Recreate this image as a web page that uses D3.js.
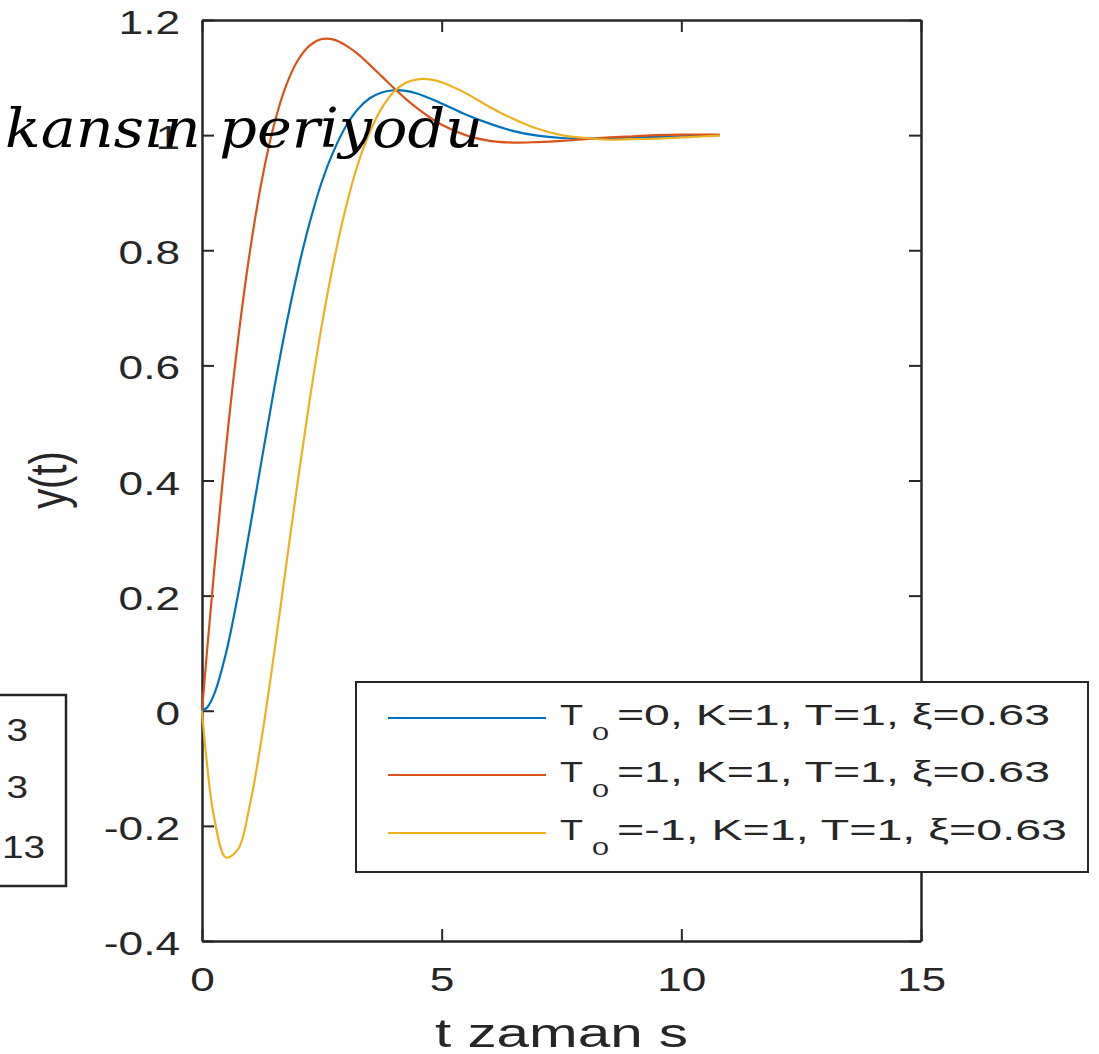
<!DOCTYPE html>
<html>
<head>
<meta charset="utf-8">
<script src="https://cdn.jsdelivr.net/npm/d3@7"></script>
<style>
  html, body { margin: 0; padding: 0; background: #ffffff; }
  svg { display: block; }
  text { font-family: "Liberation Sans", Arial, sans-serif; fill: #262626; }
</style>
</head>
<body>
<svg id="chart" width="1099" height="1054"></svg>
<script>
// Step responses y(t) of K(T0·s+1)/(T²s²+2ξTs+1), sampled in time
const timeValues = [0, 0.1, 0.25, 0.5, 0.75, 1, 1.25, 1.5, 1.75, 2, 2.25, 2.5, 2.75, 3, 3.25, 3.5, 3.75, 4,
  4.25, 4.5, 4.75, 5, 5.5, 6, 6.5, 7, 7.5, 8, 8.5, 9, 9.5, 10, 10.5, 10.8];
const responseT0Zero = [0, 0.005, 0.028, 0.100, 0.201, 0.317, 0.438, 0.557, 0.667, 0.765, 0.849, 0.919, 0.973, 1.015,
  1.045, 1.064, 1.074, 1.078, 1.077, 1.072, 1.064, 1.055, 1.036, 1.020, 1.007, 0.999, 0.995, 0.994, 0.994,
  0.996, 0.997, 0.998, 0.999, 1.000];
const responseT0Plus = [0, 0.099, 0.240, 0.456, 0.643, 0.798, 0.922, 1.017, 1.085, 1.130, 1.156, 1.167, 1.166, 1.156,
  1.141, 1.122, 1.102, 1.082, 1.063, 1.046, 1.031, 1.018, 1.000, 0.990, 0.987, 0.988, 0.990, 0.993, 0.996,
  0.998, 1.000, 1.001, 1.001, 1.001];
const responseT0Minus = [0, -0.089, -0.184, -0.255, -0.241, -0.163, -0.045, 0.097, 0.249, 0.400, 0.542, 0.670, 0.781,
  0.874, 0.949, 1.005, 1.047, 1.075, 1.091, 1.097, 1.097, 1.092, 1.073, 1.049, 1.028, 1.011, 1.000, 0.995,
  0.992, 0.993, 0.994, 0.996, 0.998, 0.999];

const seriesColors = ["#0072BD", "#D95319", "#EDB120"];
const legendSubscripts = ["0", "0", "0"];
const legendTexts = ["=0, K=1, T=1, \u03BE=0.63", "=1, K=1, T=1, \u03BE=0.63", "=-1, K=1, T=1, \u03BE=0.63"];

const xTickValues = [0, 5, 10, 15];
const xTickLabels = ["0", "5", "10", "15"];
const yTickValues = [-0.4, -0.2, 0, 0.2, 0.4, 0.6, 0.8, 1, 1.2];
const yTickLabels = ["-0.4", "-0.2", "0", "0.2", "0.4", "0.6", "0.8", "1", "1.2"];

const titleText = "kans\u0131n periyodu";
const xLabelText = "t zaman s";
const yLabelText = "y(t)";
const sideBoxTexts = ["3", "3", "13"];

const svg = d3.select("#chart");
const ink = "#262626";
const box = { left: 202, right: 921, top: 20, bottom: 941 };
const stretch = 1.3;

const x = d3.scaleLinear().domain([0, 15]).range([box.left, box.right]);
const y = d3.scaleLinear().domain([-0.4, 1.2]).range([box.bottom, box.top]);

svg.append("rect").attr("width", 1099).attr("height", 1054).attr("fill", "#ffffff");

// Fragment of a neighbouring legend box at the left edge
const side = svg.append("g");
side.append("rect").attr("x", -60).attr("y", 695).attr("width", 126).attr("height", 191)
  .attr("fill", "#ffffff").attr("stroke", ink).attr("stroke-width", 2.5);
[[28, 730], [28, 787], [45, 847]].forEach((p, i) => {
  side.append("text")
    .attr("transform", `translate(${p[0]},${p[1]}) scale(1.25,1)`)
    .attr("text-anchor", "end").attr("dy", "0.36em")
    .style("font-size", "31px")
    .text(sideBoxTexts[i]);
});

// Axes with inward ticks on all four sides
function styleAxis(g) {
  g.select(".domain").attr("stroke", ink).attr("stroke-width", 2.5);
  g.selectAll(".tick line").attr("stroke", ink).attr("stroke-width", 2);
}

const yAxis = svg.append("g").attr("transform", `translate(${box.left},0)`)
  .call(d3.axisLeft(y).tickValues(yTickValues).tickSizeInner(-12).tickSizeOuter(0).tickPadding(22)
    .tickFormat((d, i) => yTickLabels[i]));
styleAxis(yAxis);
yAxis.selectAll(".tick text")
  .attr("x", null).attr("dy", "0.4em")
  .attr("transform", `translate(-22,0) scale(${stretch},1)`)
  .attr("fill", ink).style("font-size", "34px").style("font-family", "'Liberation Sans', Arial, sans-serif");

const yAxisRight = svg.append("g").attr("transform", `translate(${box.right},0)`)
  .call(d3.axisRight(y).tickValues(yTickValues).tickSizeInner(-12).tickSizeOuter(0).tickFormat(""));
styleAxis(yAxisRight);

const xAxis = svg.append("g").attr("transform", `translate(0,${box.bottom})`)
  .call(d3.axisBottom(x).tickValues(xTickValues).tickSizeInner(-12).tickSizeOuter(0).tickPadding(26)
    .tickFormat((d, i) => xTickLabels[i]));
styleAxis(xAxis);
xAxis.selectAll(".tick text")
  .attr("y", null).attr("dy", "0.71em")
  .attr("transform", `translate(0,26) scale(${stretch},1)`)
  .attr("fill", ink).style("font-size", "34px").style("font-family", "'Liberation Sans', Arial, sans-serif");

const xAxisTop = svg.append("g").attr("transform", `translate(0,${box.top})`)
  .call(d3.axisTop(x).tickValues(xTickValues).tickSizeInner(-12).tickSizeOuter(0).tickFormat(""));
styleAxis(xAxisTop);

// Axis titles
svg.append("text")
  .attr("x", (box.left + box.right) / 2).attr("y", 1047)
  .attr("text-anchor", "middle")
  .attr("textLength", 253).attr("lengthAdjust", "spacingAndGlyphs")
  .style("font-size", "40px")
  .text(xLabelText);

svg.append("text")
  .attr("transform", `translate(66,480) rotate(-90) scale(1,${stretch})`)
  .attr("text-anchor", "middle")
  .style("font-size", "40px")
  .text(yLabelText);

// Response curves
const seriesList = [responseT0Zero, responseT0Plus, responseT0Minus];
const line = d3.line()
  .x((d, i) => x(timeValues[i]))
  .y(d => y(d))
  .curve(d3.curveCatmullRom.alpha(0.5));

seriesList.forEach((values, k) => {
  svg.append("path")
    .datum(values)
    .attr("d", line)
    .attr("fill", "none")
    .attr("stroke", seriesColors[k])
    .attr("stroke-width", 2.2)
    .attr("stroke-linejoin", "round");
});

// Legend
const legend = svg.append("g");
legend.append("rect")
  .attr("x", 356).attr("y", 682).attr("width", 732).attr("height", 190)
  .attr("fill", "#ffffff").attr("stroke", ink).attr("stroke-width", 2);

const rowY = [718, 775, 833];
const restEnd = [1050, 1050, 1067];
legendTexts.forEach((txt, i) => {
  legend.append("line")
    .attr("x1", 388).attr("x2", 546).attr("y1", rowY[i]).attr("y2", rowY[i])
    .attr("stroke", seriesColors[i]).attr("stroke-width", 2.2);
  legend.append("text")
    .attr("x", 560).attr("y", rowY[i] + 7)
    .attr("textLength", 23).attr("lengthAdjust", "spacingAndGlyphs")
    .style("font-size", "30px")
    .text("T");
  legend.append("text")
    .attr("x", 592).attr("y", rowY[i] + 22)
    .attr("textLength", 17).attr("lengthAdjust", "spacingAndGlyphs")
    .style("font-size", "19px")
    .text(legendSubscripts[i]);
  legend.append("text")
    .attr("x", 617).attr("y", rowY[i] + 7)
    .attr("textLength", restEnd[i] - 617).attr("lengthAdjust", "spacingAndGlyphs")
    .style("font-size", "30px")
    .text(txt);
});

// Overlaid italic caption
svg.append("text")
  .attr("x", 5).attr("y", 147)
  .attr("textLength", 478).attr("lengthAdjust", "spacingAndGlyphs")
  .style("font-family", "'DejaVu Serif', 'Liberation Serif', serif")
  .style("font-style", "italic")
  .style("font-size", "54px")
  .style("fill", "#000000")
  .text(titleText);
</script>
</body>
</html>
